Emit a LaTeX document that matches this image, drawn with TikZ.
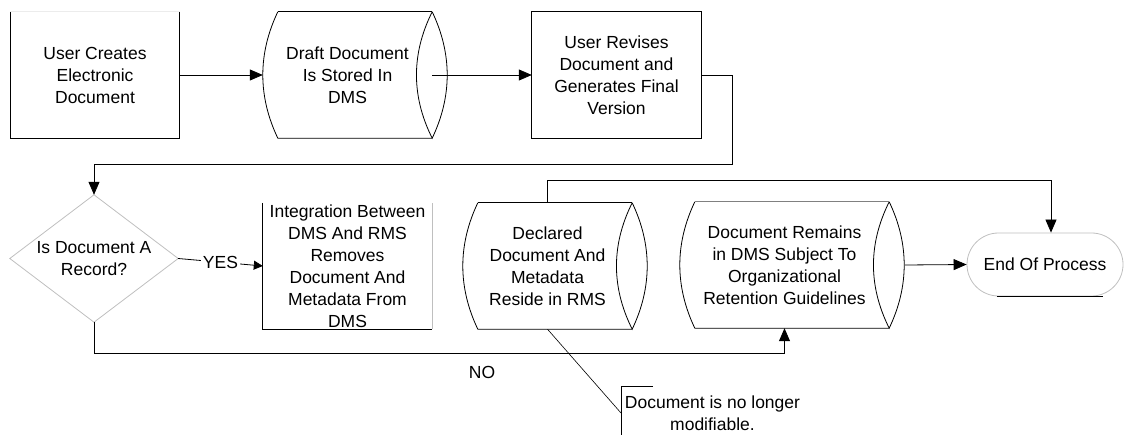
\documentclass[tikz,border=0pt]{standalone}
\usepackage{fontspec}
\setmainfont{Liberation Sans}
\usetikzlibrary{arrows.meta,calc}
\newcommand\sdshape[2][black]{%
  \draw[line] (#2.north east)
    .. controls ([xshift=20pt,yshift=-42pt]#2.north east) and ([xshift=20pt,yshift=42pt]#2.south east) .. (#2.south east)
    .. controls ([xshift=-21pt,yshift=42pt]#2.south east) and ([xshift=-21pt,yshift=-42pt]#2.north east) .. (#2.north east);
  \draw[line] (#2.south east) -- ([xshift=15pt]#2.south west)
    .. controls ([xshift=-5pt,yshift=42pt]#2.south west) and ([xshift=-5pt,yshift=-42pt]#2.north west) .. ([xshift=15pt]#2.north west);
  \draw[line, draw=#1] ([xshift=15pt]#2.north west) -- (#2.north east);
}
\begin{document}
\begin{tikzpicture}[x=1pt,y=-1pt,
  every node/.style={font=\fontsize{17.5}{22}\selectfont, align=center, inner sep=0pt},
  box/.style={minimum width=169pt, minimum height=126pt},
  line/.style={line width=0.8pt, draw=black},
  arr/.style={line, -{Triangle[length=13pt,width=11pt]}},
  grayline/.style={line width=0.8pt, draw=gray!50}]
\useasboundingbox (0,0) rectangle (1124,435);

% top row
\node[box] (b1) at (95,75) {User Creates\\Electronic\\Document};
\draw[line] (b1.north west) -- (b1.south west) -- (b1.south east) -- (b1.north east);
\draw[line, draw=gray!15] (b1.north west) -- (b1.north east);

\node[box] (d2) at (347.5,75) {Draft Document\\Is Stored In\\DMS};
\sdshape{d2}

\node[box] (b3) at (616.5,75) {User Revises\\Document and\\Generates Final\\Version};
\draw[line] (b3.north west) rectangle (b3.south east);

% second row
\node[minimum width=168pt, minimum height=127pt] (dia) at (94,258.5) {Is Document A\\Record?};
\draw[grayline] (dia.north) -- (dia.east) -- (dia.south) -- (dia.west) -- cycle;

\node[box] (b4) at (347.5,266) {Integration Between\\DMS And RMS\\Removes\\Document And\\Metadata From\\DMS};
\draw[line] (b4.north west) -- (b4.south west) -- (b4.south east);
\draw[grayline] (b4.south east) -- (b4.north east);

\node[box] (d5) at (547.5,266) {Declared\\Document And\\Metadata\\Reside in RMS};
\sdshape{d5}

\node[box, minimum width=209pt] (d6) at (784.5,265) {Document Remains\\in DMS Subject To\\Organizational\\Retention Guidelines};
\sdshape[gray]{d6}

\node[minimum width=156pt, minimum height=63pt, rounded corners=31.5pt, grayline, draw] (term) at (1045,264.5) {End Of Process};
\draw[line] ([xshift=-48pt]term.south) -- ([xshift=58pt]term.south);

% connectors
\draw[arr] (b1.east) -- (d2.west);
\draw[arr] (d2.east) -- (b3.west);
\draw[arr] (b3.east) -- ++(31,0) -- ++(0,89) -| (dia.north);
\draw[line, -{Triangle[length=9pt,width=9pt]}] (dia.east) -- node[fill=white, inner xsep=2pt] (yes) {YES} (b4.west);
\draw[arr] (dia.south) -- ++(0,31) -| (d6.south);
\node (no) at (482,372) {NO};
\draw[arr] (d5.north) -- ++(0,-22) -| ([xshift=6pt]term.north);
\draw[arr] ([xshift=16pt]d6.east) -- (term.west);

% annotation
\coordinate (nb) at (621,413);
\coordinate (nt) at (621,386);
\coordinate (nbot) at (621,436);
\draw[line, line width=0.6pt] (d5.south) -- (nb);
\draw[line] ([xshift=32pt]nt) -- (nt) -- (nbot);
\node (note) at (712.5,413.5) {Document is no longer\\modifiable.};
\end{tikzpicture}
\end{document}
